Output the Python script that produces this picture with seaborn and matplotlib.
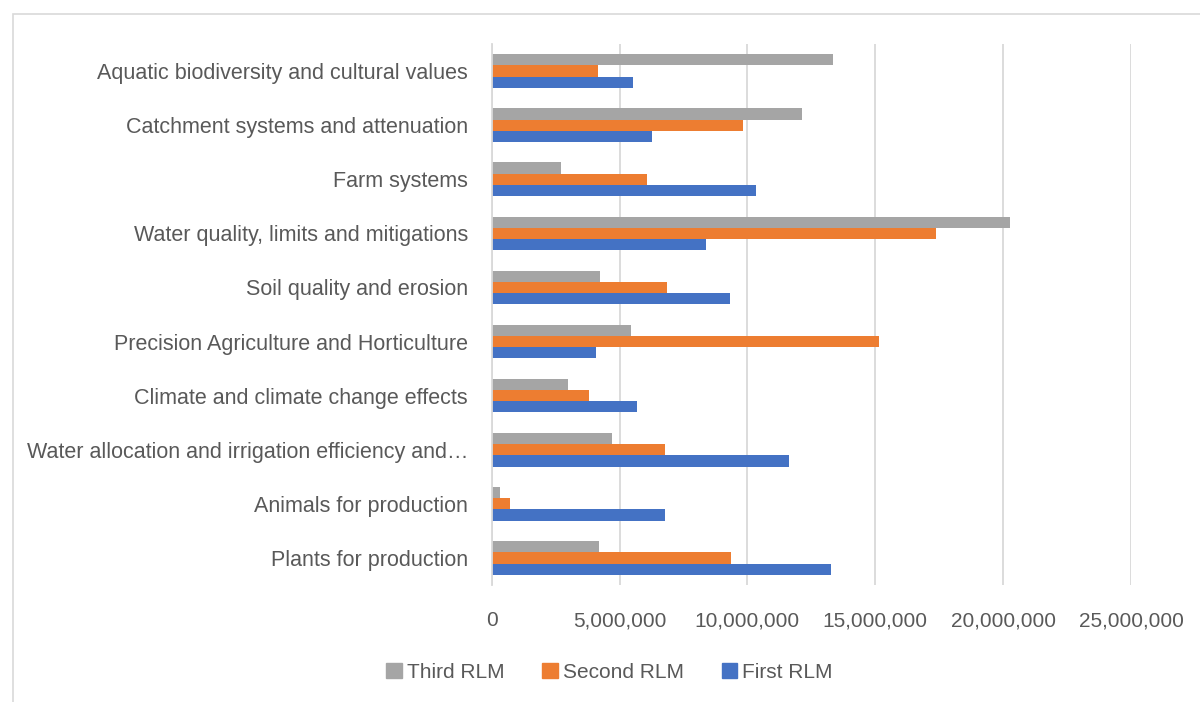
"""
Regional research spend by theme: first, second and third RLM rounds.
Horizontal grouped bar chart, Excel-style look.
"""

import pandas as pd
import matplotlib.pyplot as plt
import matplotlib.patches as patches
from matplotlib.ticker import FuncFormatter
import seaborn as sns

categories = [
    "Aquatic biodiversity and cultural values",
    "Catchment systems and attenuation",
    "Farm systems",
    "Water quality, limits and mitigations",
    "Soil quality and erosion",
    "Precision Agriculture and Horticulture",
    "Climate and climate change effects",
    "Water allocation and irrigation efficiency and\u2026",
    "Animals for production",
    "Plants for production",
]

third_rlm = [13350000, 12120000, 2700000, 20250000, 4230000,
             5460000, 3000000, 4700000, 330000, 4180000]
second_rlm = [4150000, 9830000, 6060000, 17370000, 6860000,
              15160000, 3790000, 6780000, 710000, 9370000]
first_rlm = [5540000, 6280000, 10330000, 8390000, 9310000,
             4070000, 5680000, 11610000, 6760000, 13260000]

series_names = ["Third RLM", "Second RLM", "First RLM"]
series_colors = ["#A5A5A5", "#ED7D31", "#4472C4"]
x_ticks = [0, 5000000, 10000000, 15000000, 20000000, 25000000]

TEXT = "#595959"
GRID = "#D9D9D9"

df = pd.DataFrame({
    "Theme": categories * 3,
    "Series": [s for s in series_names for _ in categories],
    "Value": third_rlm + second_rlm + first_rlm,
})

sns.set_theme(style="white")
plt.rcParams["font.family"] = ["Liberation Sans", "DejaVu Sans"]

fig = plt.figure(figsize=(12, 7.02), dpi=100)
ax = fig.add_axes([491.7 / 1200, 1 - 585 / 702, (1131 - 491.7) / 1200, (585 - 44) / 702])

sns.barplot(data=df, x="Value", y="Theme", hue="Series", order=categories,
            hue_order=series_names, palette=series_colors, orient="h",
            width=0.62, saturation=1, ax=ax, legend=False, linewidth=0)

ax.set_xlim(0, 25000000)
ax.set_xticks(x_ticks)
ax.xaxis.set_major_formatter(FuncFormatter(lambda v, p: f"{int(v):,}"))
ax.grid(axis="x", color=GRID, linewidth=1.3)
ax.set_axisbelow(True)
for side in ["top", "right", "bottom"]:
    ax.spines[side].set_visible(False)
ax.spines["left"].set_color(GRID)
ax.spines["left"].set_linewidth(1.3)
ax.set_xlabel("")
ax.set_ylabel("")
ax.tick_params(axis="x", length=0, pad=19, labelsize=15, labelcolor=TEXT)
ax.tick_params(axis="y", length=0, pad=17, labelsize=15.5, labelcolor=TEXT)

handles = [patches.Patch(color=c, label=n) for n, c in zip(series_names, series_colors)]
fig.legend(handles=handles, loc="center", bbox_to_anchor=(0.508, 1 - 672 / 702),
           ncol=3, frameon=False, fontsize=15, labelcolor=TEXT,
           handlelength=0.75, handleheight=0.75, handletextpad=0.25, columnspacing=1.8)

# outer chart border
fig.patches.append(patches.Rectangle((13 / 1200, -0.05), 1.1, 1 - 14 / 702 + 0.05,
                                     transform=fig.transFigure, fill=False,
                                     edgecolor=GRID, linewidth=1.2))

fig.savefig("out.png", dpi=100)
